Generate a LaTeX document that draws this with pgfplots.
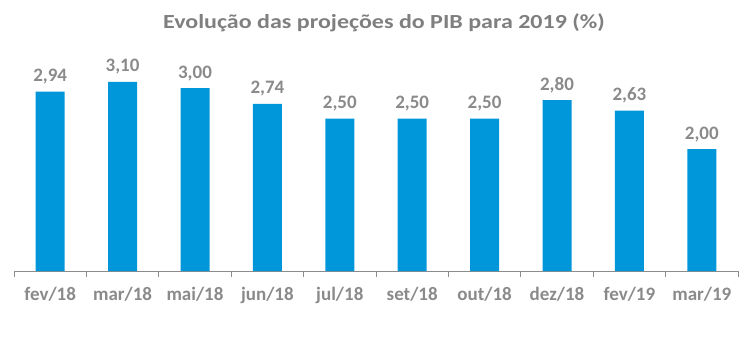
\documentclass[border=0pt]{standalone}
\usepackage{pgfplots}
\pgfplotsset{compat=1.18}
\usepackage{fontspec}
\setmainfont{Carlito}
\newfontfamily\titlefont[FakeStretch=1.2]{Carlito}
\definecolor{barblue}{HTML}{0096DA}
\definecolor{lblgray}{HTML}{8A8A8A}
\definecolor{ttlgray}{HTML}{7F7F7F}
\definecolor{axgray}{HTML}{8C8C8C}
\begin{document}
\begin{tikzpicture}
\useasboundingbox (-14pt,-86pt) rectangle (737pt,271pt);
\begin{axis}[
  at={(0,0)}, anchor=south west,
  scale only axis,
  width=724pt, height=211pt,
  xmin=-0.5, xmax=9.5, ymin=0, ymax=3.459,
  enlargelimits=false,
  axis x line*=bottom,
  axis y line=none,
  x axis line style={draw=axgray, line width=1pt},
  xtick={0,...,9},
  xticklabels={fev/18,mar/18,mai/18,jun/18,jul/18,set/18,out/18,dez/18,fev/19,mar/19},
  minor xtick={-0.5,0.5,...,9.5},
  major tick length=0pt,
  minor tick length=6pt,
  tick align=outside,
  minor tick style={draw=axgray, line width=1pt},
  xticklabel style={font=\fontsize{19}{22}\selectfont\bfseries, text=lblgray, anchor=base, yshift=-29pt, inner sep=0pt},
  ybar, bar width=29pt,
  nodes near coords,
  nodes near coords style={font=\fontsize{19}{22}\selectfont\bfseries, text=lblgray, anchor=base, yshift=10pt, inner sep=0pt},
  /pgf/number format/.cd, fixed, fixed zerofill, precision=2, use comma, assume math mode=true,
  /pgfplots/.cd,
  title={Evolução das projeções do PIB para 2019 (\%)},
  title style={font=\titlefont\fontsize{20}{24}\selectfont\bfseries, text=ttlgray, anchor=base, at={(axis description cs:0.511,1)}, yshift=26pt, inner sep=0pt},
]
\addplot[fill=barblue, draw=none] coordinates {
 (0,2.94) (1,3.10) (2,3.00) (3,2.74) (4,2.50) (5,2.50) (6,2.50) (7,2.80) (8,2.63) (9,2.00)
};
\end{axis}
\end{tikzpicture}
\end{document}
